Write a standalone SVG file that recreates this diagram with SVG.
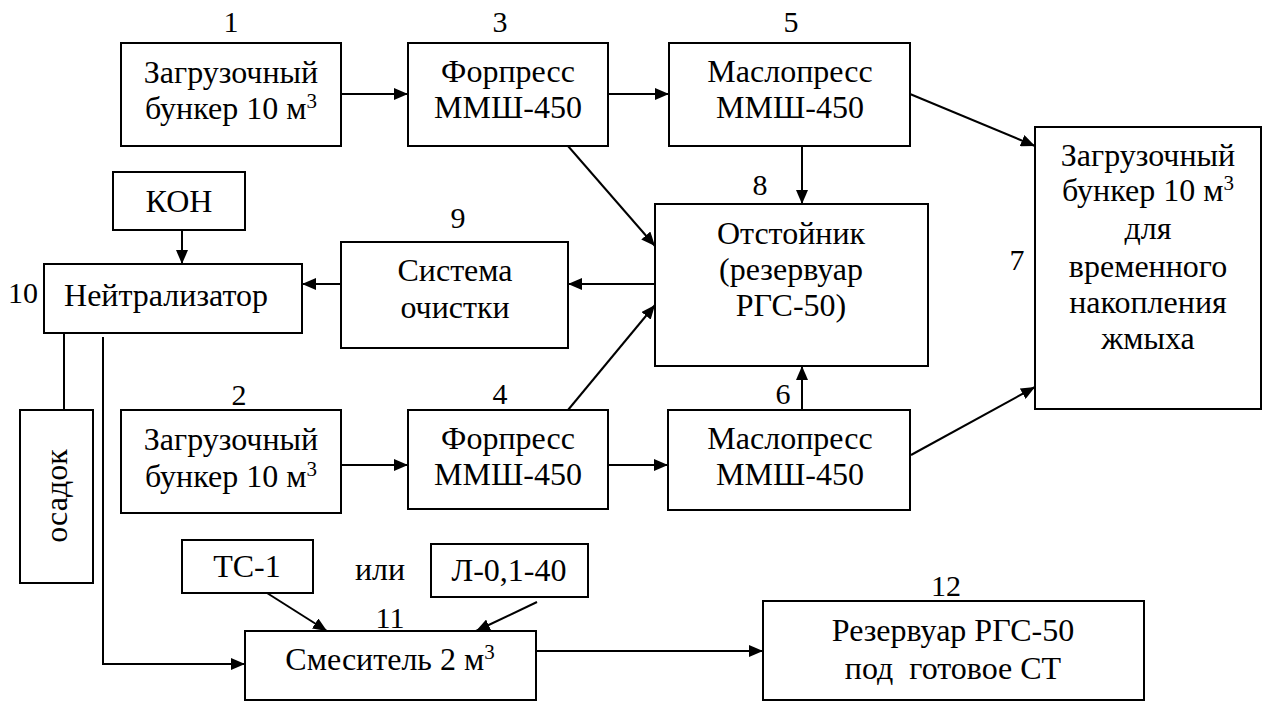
<svg xmlns="http://www.w3.org/2000/svg" width="1262" height="702" viewBox="0 0 1262 702">
<style>
.bx{fill:#fff;stroke:#000;stroke-width:2}
.ln{fill:none;stroke:#000;stroke-width:2}
text{font-family:"Liberation Serif","Times New Roman",Tinos,serif;fill:#000;text-anchor:middle}
.tx{font-size:32px}
.nm{font-size:30px}
.sp{font-size:21px}
</style>
<defs>
<marker id="a" markerUnits="userSpaceOnUse" markerWidth="14" markerHeight="12" refX="14" refY="6" orient="auto"><path d="M0,0L14,6L0,12z" fill="#000"/></marker>
</defs>
<rect width="1262" height="702" fill="#fff"/>
<g id="connectors">
<path class="ln" d="M341,94H408" marker-end="url(#a)"/>
<path class="ln" d="M608,94H669" marker-end="url(#a)"/>
<path class="ln" d="M802,146V204" marker-end="url(#a)"/>
<path class="ln" d="M568,146L655,246" marker-end="url(#a)"/>
<path class="ln" d="M910,94L1035,146" marker-end="url(#a)"/>
<path class="ln" d="M655,284H568" marker-end="url(#a)"/>
<path class="ln" d="M341,284H302" marker-end="url(#a)"/>
<path class="ln" d="M182,230V264" marker-end="url(#a)"/>
<path class="ln" d="M568,410L655,305" marker-end="url(#a)"/>
<path class="ln" d="M802,410V366" marker-end="url(#a)"/>
<path class="ln" d="M911,455L1035,387" marker-end="url(#a)"/>
<path class="ln" d="M341,465H408" marker-end="url(#a)"/>
<path class="ln" d="M608,465H668" marker-end="url(#a)"/>
<path class="ln" d="M64,333V410"/>
<path class="ln" d="M103,337V664H245" marker-end="url(#a)"/>
<path class="ln" d="M267,593L327,631" marker-end="url(#a)"/>
<path class="ln" d="M537,602L476,631" marker-end="url(#a)"/>
<path class="ln" d="M536,651H763" marker-end="url(#a)"/>
</g>
<g id="n1">
<text class="nm" x="231" y="32">1</text>
<rect class="bx" x="121" y="43" width="220" height="103"/>
<text class="tx" x="231" y="83">Загрузочный</text>
<text class="tx" x="231" y="119">бункер 10 м<tspan class="sp" dy="-11">3</tspan></text>
</g>
<g id="n3">
<text class="nm" x="500" y="32">3</text>
<rect class="bx" x="408" y="43" width="200" height="103"/>
<text class="tx" x="508" y="82">Форпресс</text>
<text class="tx" x="508" y="118">ММШ-450</text>
</g>
<g id="n5">
<text class="nm" x="791" y="32">5</text>
<rect class="bx" x="669" y="43" width="241" height="103"/>
<text class="tx" x="790" y="82">Маслопресс</text>
<text class="tx" x="790" y="118">ММШ-450</text>
</g>
<g id="n7">
<text class="nm" x="1017" y="270">7</text>
<rect class="bx" x="1035" y="127" width="226" height="282"/>
<text class="tx" x="1148" y="166">Загрузочный</text>
<text class="tx" x="1148" y="201">бункер 10 м<tspan class="sp" dy="-11">3</tspan></text>
<text class="tx" x="1148" y="239">для</text>
<text class="tx" x="1148" y="277">временного</text>
<text class="tx" x="1148" y="313">накопления</text>
<text class="tx" x="1148" y="349">жмыха</text>
</g>
<g id="n8">
<text class="nm" x="760" y="195">8</text>
<rect class="bx" x="655" y="204" width="273" height="162"/>
<text class="tx" x="791" y="244">Отстойник</text>
<text class="tx" x="791" y="280">(резервуар</text>
<text class="tx" x="791" y="316">РГС-50)</text>
</g>
<g id="n9">
<text class="nm" x="458" y="228">9</text>
<rect class="bx" x="341" y="242" width="227" height="106"/>
<text class="tx" x="455" y="281">Система</text>
<text class="tx" x="455" y="318">очистки</text>
</g>
<g id="koh">
<rect class="bx" x="113" y="172" width="132" height="58"/>
<text class="tx" x="179" y="212">КОН</text>
</g>
<g id="n10">
<text class="nm" x="23" y="303">10</text>
<rect class="bx" x="44" y="264" width="258" height="69"/>
<text class="tx" x="166" y="306">Нейтрализатор</text>
</g>
<g id="osadok">
<rect class="bx" x="20" y="410" width="73" height="173"/>
<text class="tx" transform="translate(67,496) rotate(-90)" x="0" y="0">осадок</text>
</g>
<g id="n2">
<text class="nm" x="239" y="405">2</text>
<rect class="bx" x="121" y="410" width="220" height="103"/>
<text class="tx" x="231" y="450">Загрузочный</text>
<text class="tx" x="231" y="487">бункер 10 м<tspan class="sp" dy="-11">3</tspan></text>
</g>
<g id="n4">
<text class="nm" x="500" y="404">4</text>
<rect class="bx" x="408" y="410" width="200" height="99"/>
<text class="tx" x="508" y="449">Форпресс</text>
<text class="tx" x="508" y="485">ММШ-450</text>
</g>
<g id="n6">
<text class="nm" x="783" y="404">6</text>
<rect class="bx" x="668" y="410" width="242" height="100"/>
<text class="tx" x="790" y="449">Маслопресс</text>
<text class="tx" x="790" y="485">ММШ-450</text>
</g>
<g id="ts1">
<rect class="bx" x="182" y="540" width="131" height="53"/>
<text class="tx" x="247" y="577">ТС-1</text>
</g>
<text class="tx" x="380" y="580">или</text>
<g id="l01">
<rect class="bx" x="431" y="544" width="157" height="53"/>
<text class="tx" x="509" y="581">Л-0,1-40</text>
</g>
<g id="n11">
<text class="nm" x="390" y="628">11</text>
<rect class="bx" x="245" y="631" width="291" height="69"/>
<text class="tx" x="390" y="670">Смеситель 2 м<tspan class="sp" dy="-11">3</tspan></text>
</g>
<g id="n12">
<text class="nm" x="946" y="596">12</text>
<rect class="bx" x="763" y="601" width="381" height="99"/>
<text class="tx" x="953" y="641">Резервуар РГС-50</text>
<text class="tx" x="953" y="679" xml:space="preserve">под  готовое СТ</text>
</g>
</svg>
